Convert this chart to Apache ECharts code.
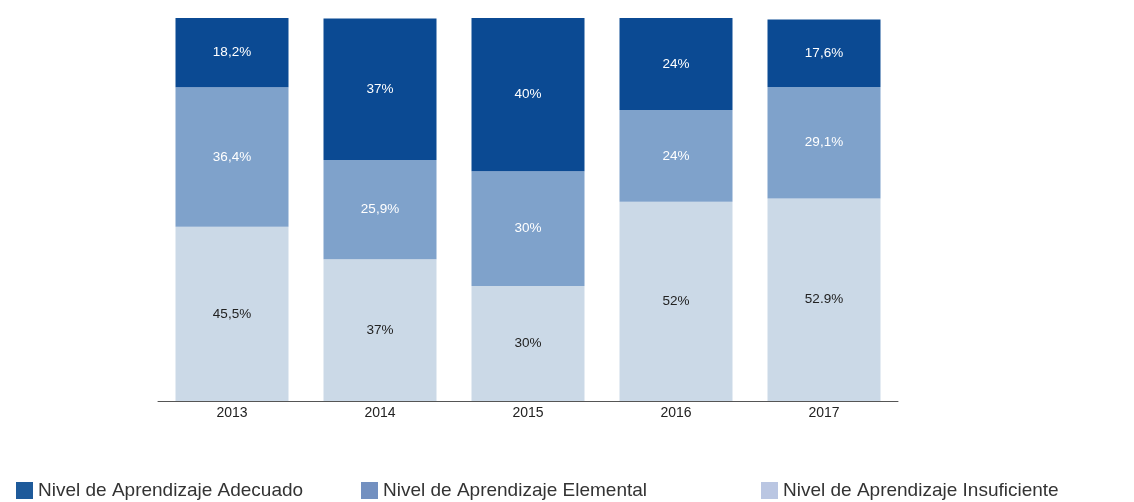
<!DOCTYPE html>
<html><head><meta charset="utf-8">
<script src="https://cdn.jsdelivr.net/npm/echarts@6/dist/echarts.min.js"></script>
<style>html,body{margin:0;padding:0;background:#fff}#c{width:1134px;height:502px}</style>
</head><body><div id="c"></div>
<script>
const years = ['2013','2014','2015','2016','2017'];
const seriesNames = ['Nivel de Aprendizaje Adecuado','Nivel de Aprendizaje Elemental','Nivel de Aprendizaje Insuficiente'];
const insuficiente = [45.5, 37, 30, 52, 52.9];
const elemental = [36.4, 25.9, 30, 24, 29.1];
const adecuado = [18.2, 37, 40, 24, 17.6];
const insuficienteLabels = ['45,5%','37%','30%','52%','52.9%'];
const elementalLabels = ['36,4%','25,9%','30%','24%','29,1%'];
const adecuadoLabels = ['18,2%','37%','40%','24%','17,6%'];

const chart = echarts.init(document.getElementById('c'));
function mk(name, vals, labels, color, labelColor) {
  return {
    name: name, type: 'bar', stack: 't', barWidth: 113,
    data: vals,
    itemStyle: {color: color},
    label: {show: true, position: 'inside', color: labelColor, fontFamily: 'Liberation Sans', fontSize: 13.5,
      formatter: p => labels[p.dataIndex]},
    emphasis: {disabled: true}
  };
}
const legendBase = {top: 476, itemWidth: 17, itemHeight: 17, icon: 'rect',
  textStyle: {fontFamily: 'Liberation Sans', fontSize: 19, color: '#333'}, itemGap: 6};
chart.setOption({
  animation: false,
  grid: {left: 158, width: 740, top: 18, bottom: 101},
  legend: [
    Object.assign({left: 11, data: [{name: seriesNames[0], itemStyle: {color: '#1e5a9a'}}]}, legendBase),
    Object.assign({left: 356, data: [{name: seriesNames[1], itemStyle: {color: '#7390c0'}}]}, legendBase),
    Object.assign({left: 756, data: [{name: seriesNames[2], itemStyle: {color: '#bac6e2'}}]}, legendBase)
  ],
  xAxis: {type: 'category', data: years,
    axisLine: {lineStyle: {color: '#555', width: 1}}, axisTick: {show: false},
    axisLabel: {fontFamily: 'Liberation Sans', fontSize: 14, color: '#222', margin: 5}},
  yAxis: {type: 'value', min: 0, max: 100, show: false, splitLine: {show: false}},
  series: [
    mk(seriesNames[2], insuficiente, insuficienteLabels, '#cbd9e7', '#222'),
    mk(seriesNames[1], elemental, elementalLabels, '#7fa2cb', '#fff'),
    mk(seriesNames[0], adecuado, adecuadoLabels, '#0b4a93', '#fff')
  ]
});
</script></body></html>
